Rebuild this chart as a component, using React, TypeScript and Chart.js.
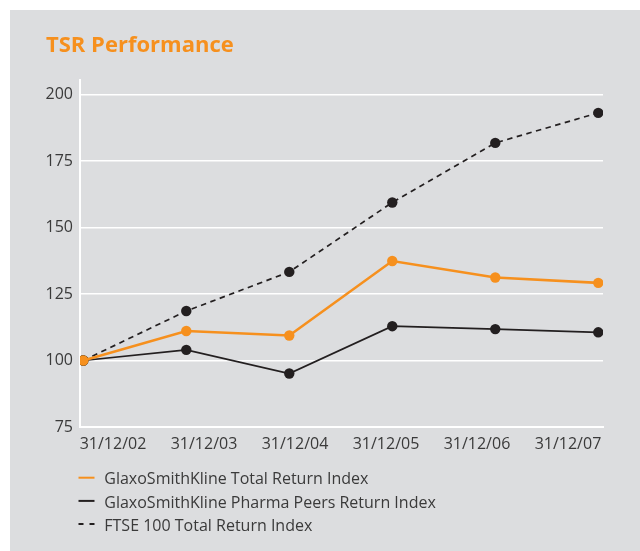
import React, { useEffect, useRef } from 'react';
import { Chart, registerables } from 'chart.js';

Chart.register(...registerables);

// ---- Data ----
const categories = ['31/12/02', '31/12/03', '31/12/04', '31/12/05', '31/12/06', '31/12/07'];
const gskTotalReturn = [100, 111.1, 109.4, 137.4, 131.2, 129.2];
const pharmaPeers = [100, 104.0, 95.1, 112.9, 111.8, 110.6];
const ftse100 = [100, 118.6, 133.3, 159.4, 181.8, 193.1];
const yTicks = [75, 100, 125, 150, 175, 200];
const seriesNames = [
  'GlaxoSmithKline Total Return Index',
  'GlaxoSmithKline Pharma Peers Return Index',
  'FTSE 100 Total Return Index',
];
const titleText = 'TSR Performance';

// ---- Styles ----
const ORANGE = '#f6901e';
const BLACK = '#231f20';
const BG = '#dcdddf';
const TEXT = '#3a3a3a';
const FONT = '"Open Sans", sans-serif';

const toPoints = (arr: number[]) => arr.map((v, i) => ({ x: i, y: v }));

const legendPlugin = {
  id: 'customLegend',
  afterDraw(chart: any) {
    const ctx = chart.ctx as CanvasRenderingContext2D;
    const area = chart.chartArea;
    const lineX0 = area.left - 1.5;
    const lineX1 = lineX0 + 16;
    const textX = lineX0 + 25.8;
    const baseline0 = area.bottom + 57.3;
    const rowGap = 23.2;
    ctx.save();
    seriesNames.forEach((name, i) => {
      const ds = chart.data.datasets[i];
      const baseline = baseline0 + i * rowGap;
      const ly = baseline - 6.6;
      ctx.beginPath();
      ctx.strokeStyle = ds.borderColor;
      ctx.lineWidth = 2;
      ctx.lineCap = 'butt';
      ctx.setLineDash(ds.borderDash && ds.borderDash.length ? [5, 6] : []);
      ctx.moveTo(lineX0, ly);
      ctx.lineTo(lineX1, ly);
      ctx.stroke();
      ctx.setLineDash([]);
      ctx.font = `16px ${FONT}`;
      ctx.fillStyle = TEXT;
      ctx.textAlign = 'left';
      ctx.textBaseline = 'alphabetic';
      ctx.fillText(name, textX, baseline);
    });
    ctx.restore();
  },
};

export default function App() {
  const canvasRef = useRef<HTMLCanvasElement | null>(null);

  useEffect(() => {
    if (!canvasRef.current) return;
    const chart = new Chart(canvasRef.current, {
      type: 'line',
      data: {
        datasets: [
          {
            label: seriesNames[0],
            data: toPoints(gskTotalReturn),
            borderColor: ORANGE,
            backgroundColor: ORANGE,
            borderWidth: 2.6,
            pointRadius: 5.2,
            pointBorderWidth: 0,
            pointBackgroundColor: ORANGE,
            tension: 0,
            xAxisID: 'x',
            yAxisID: 'y',
          },
          {
            label: seriesNames[1],
            data: toPoints(pharmaPeers),
            borderColor: BLACK,
            backgroundColor: BLACK,
            borderWidth: 1.7,
            pointRadius: 5.2,
            pointBorderWidth: 0,
            pointBackgroundColor: BLACK,
            tension: 0,
            xAxisID: 'x',
            yAxisID: 'y',
          },
          {
            label: seriesNames[2],
            data: toPoints(ftse100),
            borderColor: BLACK,
            backgroundColor: BLACK,
            borderWidth: 1.7,
            borderDash: [5.5, 4.5],
            pointRadius: 5.2,
            pointBorderWidth: 0,
            pointBackgroundColor: BLACK,
            tension: 0,
            xAxisID: 'x',
            yAxisID: 'y',
          },
        ],
      },
      options: {
        animation: false,
        responsive: false,
        maintainAspectRatio: false,
        layout: { padding: { left: 36, right: 37, top: 22.8, bottom: 94 } },
        plugins: {
          legend: { display: false },
          tooltip: { enabled: false },
          title: {
            display: true,
            text: titleText,
            align: 'start',
            color: ORANGE,
            font: { family: FONT, size: 22, weight: 'bold', lineHeight: 1.2 },
            padding: { top: 0, bottom: 20.8 },
          },
        },
        scales: {
          x: {
            type: 'linear',
            min: -0.032,
            max: 5.046,
            display: false,
          },
          xl: {
            type: 'linear',
            position: 'bottom',
            min: -0.3626,
            max: 5.385,
            afterBuildTicks: (s: any) => {
              s.ticks = categories.map((_, i) => ({ value: i }));
            },
            afterFit: (s: any) => {
              s.height = 30;
            },
            ticks: {
              callback: (v: any) => categories[v as number] ?? '',
              autoSkip: false,
              maxRotation: 0,
              padding: 8,
              color: TEXT,
              font: { family: FONT, size: 16 },
            },
            grid: { display: true, color: 'rgba(0,0,0,0)', drawTicks: false },
            border: { display: true, color: '#ffffff', width: 2 },
          },
          y: {
            type: 'linear',
            min: 75,
            max: 205.45,
            afterBuildTicks: (s: any) => {
              s.ticks = yTicks.map((v) => ({ value: v }));
            },
            afterFit: (s: any) => {
              s.width = 34;
            },
            ticks: {
              padding: 7,
              color: TEXT,
              font: { family: FONT, size: 16 },
            },
            grid: { color: '#ffffff', lineWidth: 1.5, drawTicks: false },
            border: { display: true, color: '#ffffff', width: 2 },
          },
        },
      },
      plugins: [legendPlugin],
    } as any);
    return () => chart.destroy();
  }, []);

  return (
    <div
      style={{
        position: 'fixed',
        left: 10,
        top: 10,
        width: 630,
        height: 545,
        background: BG,
      }}
    >
      <canvas ref={canvasRef} width={630} height={541} style={{ display: 'block' }} />
    </div>
  );
}
